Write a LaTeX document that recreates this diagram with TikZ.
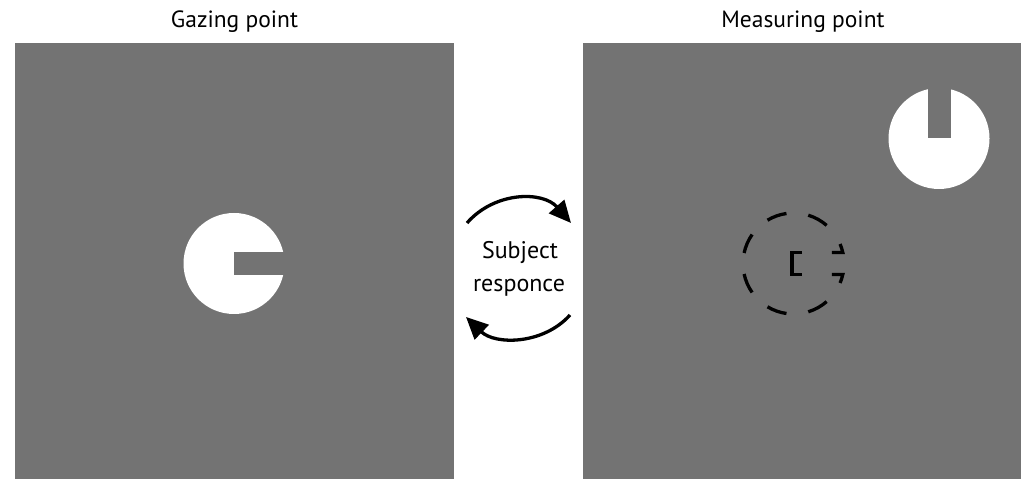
\documentclass[tikz,border=0pt]{standalone}
\usepackage{fontspec}
\setmainfont{PT Sans}
\usetikzlibrary{arrows.meta}
\definecolor{panelgray}{RGB}{115,115,115}
\begin{document}
\begin{tikzpicture}[x=1pt,y=1pt,
  panel/.style={fill=panelgray,draw=none},
  outline/.style={line width=3.3pt,black,line cap=butt,line join=miter},
  title/.style={font=\fontsize{23.5}{27}\selectfont,anchor=base,inner sep=0pt},
  lbl/.style={font=\fontsize{24}{28}\selectfont,anchor=base,inner sep=0pt},
  loop/.style={line width=3.3pt,black,-{Triangle[length=22pt,width=20pt]}}]
\useasboundingbox (0,0) rectangle (1024,479);
\fill[white] (0,0) rectangle (1024,479);
% panels
\fill[panel] (15,0) rectangle (454,436);
\fill[panel] (583,0) rectangle (1021,436);
% titles
\node[title] (tg) at (234.5,451) {Gazing point};
\node[title] (tm) at (803,451) {Measuring point};
% left Landolt C
\fill[white] (234,215.5) circle[radius=50.5];
\fill[panelgray] (233.5,204) rectangle (290,227);
% right Landolt C
\fill[white] (939,340.5) circle[radius=50.5];
\fill[panelgray] (927.8,340.5) rectangle (951,395);
% dashed Landolt C outline
\coordinate (dc) at (793.5,215.5);
\foreach \a/\b in {49/73, 98/121, 145/168} {
  \draw[outline] (dc) ++(\a:50.5) arc[start angle=\a,end angle=\b,radius=50.5];
  \draw[outline] (dc) ++(-\a:50.5) arc[start angle=-\a,end angle=-\b,radius=50.5];
}
\draw[outline] (dc) ++(22.7:50.5) arc[start angle=22.7,end angle=12.58,radius=50.5] -- ++(-11,0);
\draw[outline] (dc) ++(-22.7:50.5) arc[start angle=-22.7,end angle=-12.58,radius=50.5] -- ++(-11,0);
\draw[outline] (802,226.5) -- (792,226.5) -- (792,204.5) -- (802,204.5);
% response arrows
\coordinate (t1) at (467,256);
\coordinate (t2) at (571,256);
\draw[loop] (t1) .. controls (495,288) and (543,288) .. (t2);
\coordinate (b1) at (570,164);
\coordinate (b2) at (466,162);
\draw[loop] (b1) .. controls (543,134) and (495,134) .. (b2);
\node[lbl] (s1) at (520,220) {Subject};
\node[lbl] (s2) at (519,187) {responce};
\end{tikzpicture}
\end{document}
